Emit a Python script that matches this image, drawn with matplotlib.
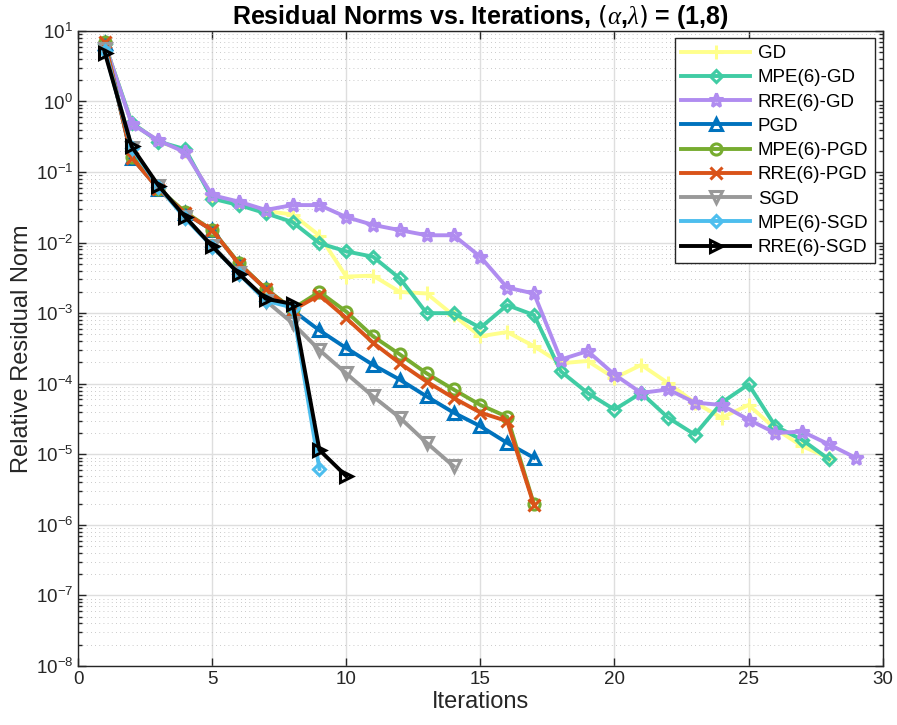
import matplotlib
matplotlib.use("Agg")
import matplotlib.pyplot as plt
import numpy as np

plt.rcParams["font.family"] = ["Liberation Sans", "DejaVu Sans"]
plt.rcParams["mathtext.fontset"] = "custom"
plt.rcParams["mathtext.it"] = "Liberation Serif:italic"

# ---------------- data ----------------
it_gd = list(range(1, 29))
gd = [6.5, 0.50, 0.27, 0.20, 0.045, 0.036, 0.028, 0.025, 0.0126, 0.0033,
      0.0034, 0.0020, 0.0019, 9.3e-4, 4.7e-4, 5.4e-4, 3.4e-4, 1.95e-4, 2.1e-4, 1.2e-4,
      1.85e-4, 1.02e-4, 5.4e-5, 3.3e-5, 5.0e-5, 2.3e-5, 1.3e-5, 8.9e-6]

it_mpe_gd = list(range(1, 29))
mpe_gd = [6.5, 0.50, 0.27, 0.21, 0.042, 0.034, 0.026, 0.0195, 0.0098, 0.0075,
          0.0063, 0.0031, 1.0e-3, 1.0e-3, 6.2e-4, 1.3e-3, 9.4e-4, 1.5e-4, 7.4e-5, 4.3e-5,
          7.4e-5, 3.3e-5, 1.9e-5, 5.4e-5, 9.8e-5, 2.5e-5, 1.6e-5, 8.5e-6]

it_rre_gd = list(range(1, 30))
rre_gd = [6.5, 0.48, 0.28, 0.19, 0.047, 0.038, 0.029, 0.034, 0.034, 0.023,
          0.0178, 0.015, 0.0127, 0.0127, 0.0063, 0.0023, 0.0019, 2.2e-4, 2.9e-4, 1.35e-4,
          7.4e-5, 8.3e-5, 5.4e-5, 5.0e-5, 3.1e-5, 2.0e-5, 2.1e-5, 1.38e-5, 8.9e-6]

it_pgd = list(range(1, 18))
pgd = [6.8, 0.16, 0.058, 0.026, 0.015, 0.005, 0.0022, 1.1e-3, 5.7e-4, 3.2e-4,
       1.85e-4, 1.14e-4, 6.6e-5, 3.9e-5, 2.5e-5, 1.45e-5, 8.9e-6]

it_mpe_pgd = list(range(1, 18))
mpe_pgd = [7.0, 0.165, 0.058, 0.027, 0.015, 0.0051, 0.0022, 1.15e-3, 2.0e-3, 1.05e-3,
           4.7e-4, 2.6e-4, 1.4e-4, 8.3e-5, 5.0e-5, 3.4e-5, 1.95e-6]

it_rre_pgd = list(range(1, 18))
rre_pgd = [6.9, 0.16, 0.057, 0.026, 0.015, 0.005, 0.0022, 1.1e-3, 1.8e-3, 8.5e-4,
           3.8e-4, 1.95e-4, 1.07e-4, 6.3e-5, 3.9e-5, 2.95e-5, 1.9e-6]

it_sgd = list(range(1, 15))
sgd = [5.5, 0.22, 0.063, 0.023, 0.0090, 0.0037, 0.0015, 7.2e-4, 3.0e-4, 1.4e-4,
       6.6e-5, 3.3e-5, 1.45e-5, 6.8e-6]

it_mpe_sgd = list(range(1, 10))
mpe_sgd = [5.2, 0.22, 0.062, 0.022, 0.0088, 0.0036, 0.0015, 1.2e-3, 6.2e-6]

it_rre_sgd = list(range(1, 11))
rre_sgd = [4.9, 0.23, 0.064, 0.023, 0.0089, 0.0036, 0.0016, 1.35e-3, 1.15e-5, 4.9e-6]

series = [
    ("GD", it_gd, gd, "#FFFF8C", "+", 10),
    ("MPE(6)-GD", it_mpe_gd, mpe_gd, "#40CCA4", "D", 6.5),
    ("RRE(6)-GD", it_rre_gd, rre_gd, "#B08CF0", "*", 10),
    ("PGD", it_pgd, pgd, "#0072BD", "^", 8),
    ("MPE(6)-PGD", it_mpe_pgd, mpe_pgd, "#77AC30", "o", 8),
    ("RRE(6)-PGD", it_rre_pgd, rre_pgd, "#D95319", "x", 9),
    ("SGD", it_sgd, sgd, "#999999", "v", 8),
    ("MPE(6)-SGD", it_mpe_sgd, mpe_sgd, "#4DBEEE", "D", 6.5),
    ("RRE(6)-SGD", it_rre_sgd, rre_sgd, "#000000", ">", 8),
]

fig = plt.figure(figsize=(8.97, 7.25), dpi=100)
ax = fig.add_axes([0.087, 0.0814, 0.897, 0.876])

for name, xs, ys, col, mk, ms in series:
    ax.semilogy(xs, ys, color=col, marker=mk, markersize=ms, linewidth=2.8,
                markerfacecolor="none", markeredgecolor=col, markeredgewidth=2.2,
                label=name)

ax.set_xlim(0, 30)
ax.set_ylim(1e-8, 1e1)
ax.set_xticks(np.arange(0, 31, 5))
ax.set_yticks([10.0 ** k for k in range(-8, 2)])
ax.yaxis.set_minor_locator(matplotlib.ticker.LogLocator(base=10, subs=np.arange(2, 10), numticks=20))
ax.yaxis.set_minor_formatter(matplotlib.ticker.NullFormatter())

ax.grid(True, which="major", color="#dedede", linewidth=1.0)
ax.grid(True, which="minor", axis="y", color="#b8b8b8", linestyle=(0, (1, 4)), linewidth=0.6)
ax.set_axisbelow(True)

ax.tick_params(which="both", direction="in", top=True, right=True, labelsize=13.5,
               colors="#262626", width=1.0)
ax.tick_params(which="major", length=6)
ax.tick_params(which="minor", length=3)
for sp in ax.spines.values():
    sp.set_color("#262626")
    sp.set_linewidth(1.0)

ax.set_xlabel("Iterations", fontsize=17, color="#262626", labelpad=2)
ax.set_ylabel("Relative Residual Norm", fontsize=17, color="#262626", labelpad=2)
ax.set_title(r"Residual Norms vs. Iterations, $(\alpha$,$\lambda)$ = (1,8)",
             fontsize=18, fontweight="bold", pad=4)

leg = ax.legend(loc="upper right", fontsize=13.5, handlelength=3.7, borderaxespad=0.4,
                fancybox=False, framealpha=1, edgecolor="#262626", labelspacing=0.38,
                handletextpad=0.4, borderpad=0.35)
leg.get_frame().set_linewidth(1.0)

fig.savefig("out.png", dpi=100)
